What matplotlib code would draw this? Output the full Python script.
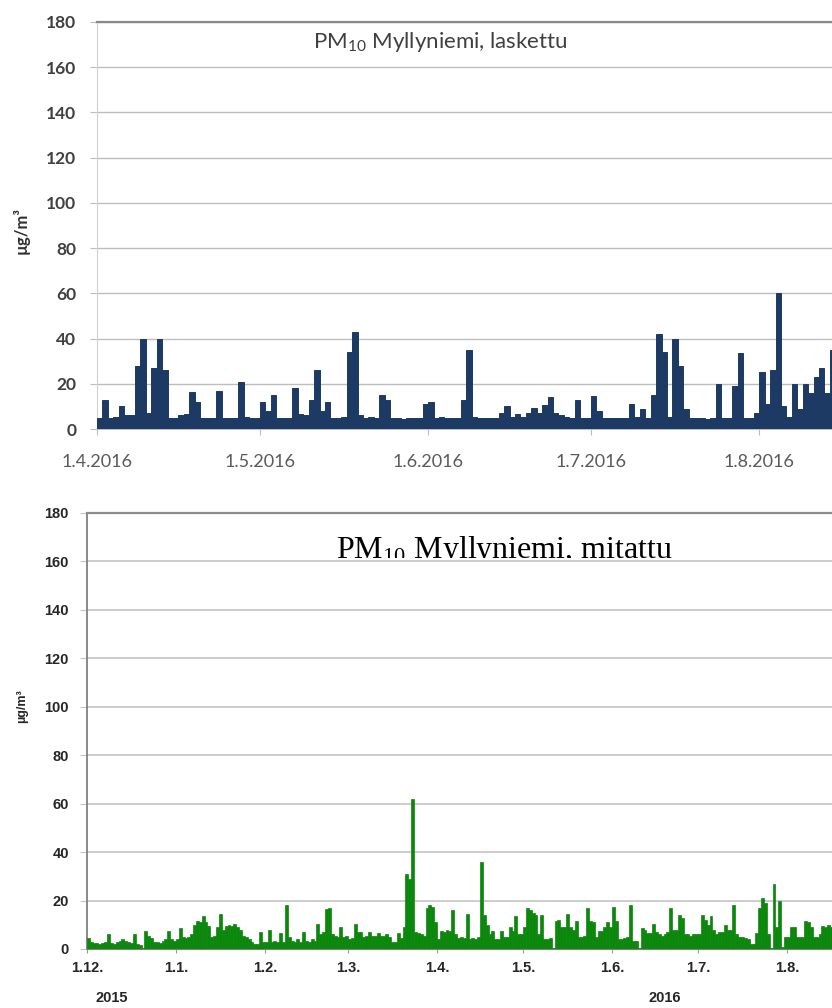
import matplotlib
matplotlib.use("Agg")
import matplotlib.pyplot as plt
import matplotlib.dates as mdates
from matplotlib.patches import Rectangle
import pandas as pd
import numpy as np

# ---------------- data ----------------
top_start = "2016-04-01"
top_values = [
    5, 13, 5, 5.5, 10, 6, 6, 28, 40, 7,
    27, 40, 26, 5, 5, 6, 6.5, 16.5, 12, 5,
    5, 5, 17, 5, 5, 5, 21, 5.5, 5, 5,
    12, 8, 15, 5, 5, 5, 18, 6.5, 6, 13,
    26, 8, 12, 5, 5, 5.5, 34, 43, 6, 5,
    5.5, 5, 15, 13, 5, 5, 4.5, 5, 5, 5,
    11, 12, 5, 5.5, 5, 5, 5, 13, 35, 5.5,
    5, 5, 5, 5, 7, 10, 5.5, 6.5, 5.5, 7,
    9.5, 7, 10.5, 14, 7, 6, 5.5, 5, 13, 5,
    5, 14.5, 8, 5, 5, 5, 5, 5, 11, 5.5,
    9, 5, 15, 42, 34, 5.5, 40, 28, 9, 5,
    5, 5, 4.5, 5, 20, 5, 5, 19, 33.5, 5,
    5, 7, 25, 11, 26, 60, 10, 5.5, 20, 9,
    20, 16, 23, 27, 16, 35,
]
top_tick_dates = ["2016-04-01", "2016-05-01", "2016-06-01", "2016-07-01", "2016-08-01"]
top_tick_labels = ["1.4.2016", "1.5.2016", "1.6.2016", "1.7.2016", "1.8.2016"]
top_title = "PM$\\mathregular{_{10}}$ Myllyniemi, laskettu"

bot_start = "2015-12-01"
bot_values = [
    # Dec 2015
    4.5, 3, 2.5, 2.5, 2, 2.5, 3, 6, 2.5, 2,
    3, 3.5, 4, 3.5, 3, 2.5, 6, 2, 1.5, 0.5,
    7.5, 5.5, 4.5, 3, 3, 2.5, 3.5, 4, 7.5, 4,
    3.5,
    # Jan 2016
    4, 8.5, 5, 4.5, 5, 6, 10, 11.5, 11, 13.5,
    11, 9.5, 5, 5.5, 9, 14.5, 8, 9.5, 10, 9.5,
    10.5, 9, 8, 5.5, 5, 4, 3, 2, 2, 7,
    3,
    # Feb
    3, 8, 3, 3.5, 3, 6.5, 3, 18, 5, 3.5,
    3, 4, 3, 7, 3.5, 3, 4, 3.5, 10.5, 6,
    7, 16.5, 17, 6, 5.5, 5, 9, 5, 5.5,
    # Mar
    4, 4.5, 10.5, 7, 7, 5, 5.5, 7, 5.5, 5.5,
    6.5, 5.5, 5.5, 6, 5, 3, 3, 6.5, 4.5, 9,
    31, 29, 62, 7, 6.5, 6, 5.5, 17, 18, 17.5,
    11,
    # Apr
    4, 7.5, 7, 8, 7.5, 16, 6, 4.5, 5, 4.5,
    14.5, 4, 4.5, 4, 5, 36, 14, 10, 6, 7.5,
    4, 4, 7.5, 5, 5, 9, 7.5, 13.5, 6, 6,
    # May
    9, 17, 16, 15, 14, 6, 14, 4, 4, 4.5,
    0.5, 11.5, 12, 9, 9, 14.5, 9, 8, 11.5, 5,
    5, 5.5, 17, 11.5, 11, 5, 7.5, 7.5, 9, 11,
    9,
    # Jun
    17.5, 11.5, 4, 4, 4.5, 5, 18, 3.5, 3.5, 0.5,
    8.5, 8, 6.5, 6.5, 10.5, 7, 6, 5.5, 6, 7,
    17, 8, 8, 14, 13, 6, 6, 5.5, 6, 6,
    # Jul
    6, 14, 12, 10, 13.5, 8, 6, 7, 7, 10,
    8, 8, 18, 6, 5, 5, 4.5, 4, 2, 2,
    6.5, 17, 21, 19, 6, 0.5, 27, 9, 20, 1,
    5,
    # Aug
    5, 9, 9, 5, 5, 5, 11.5, 11, 9, 5,
    5, 6, 9.5, 9, 10, 9,
]
bot_tick_dates = ["2015-12-01", "2016-01-01", "2016-02-01", "2016-03-01", "2016-04-01",
                  "2016-05-01", "2016-06-01", "2016-07-01", "2016-08-01"]
bot_tick_labels = ["1.12.", "1.1.", "1.2.", "1.3.", "1.4.", "1.5.", "1.6.", "1.7.", "1.8."]
bot_year_labels = ["2015", "2016"]
bot_title = "PM$\\mathregular{_{10}}$ Myllyniemi, mitattu"

y_ticks = [0, 20, 40, 60, 80, 100, 120, 140, 160, 180]
y_label = "µg/m³"

# ---------------- figure ----------------
W, H = 832, 1008
fig = plt.figure(figsize=(W / 100, H / 100), dpi=100)
fig.patch.set_facecolor("white")

# ---------- top panel ----------
ax1 = fig.add_axes([97 / W, 1 - 429 / H, 1 - 97 / W, 407 / H])
d1 = pd.date_range(top_start, periods=len(top_values), freq="D")
ax1.bar(d1, top_values, width=1.0, align="edge", color="#1d3a64",
        edgecolor="#1d3a64", linewidth=0.7, zorder=3)
x0 = mdates.date2num(pd.Timestamp(top_start))
ax1.set_xlim(x0, x0 + 135.4)
ax1.set_ylim(0, 180)
ax1.set_yticks(y_ticks)
ax1.set_xticks(pd.to_datetime(top_tick_dates))
ax1.set_xticklabels(top_tick_labels)
ax1.grid(axis="y", color="#bdbdbd", linewidth=1.0, zorder=0)
ax1.set_axisbelow(True)
ax1.spines["right"].set_visible(False)
ax1.spines["top"].set_color("#8a8a8a")
ax1.spines["top"].set_linewidth(1.6)
ax1.spines["left"].set_color("#d0d0d0")
ax1.spines["bottom"].set_color("#bdbdbd")
ax1.tick_params(axis="y", length=5, color="#bdbdbd", pad=10)
ax1.tick_params(axis="x", length=4, color="#bdbdbd", pad=14)
for lab in ax1.get_yticklabels():
    lab.set_fontfamily("Lato")
    lab.set_fontweight("bold")
    lab.set_fontsize(12.5)
    lab.set_color("#404040")
for lab in ax1.get_xticklabels():
    lab.set_fontfamily("Lato")
    lab.set_fontsize(13)
    lab.set_color("#5a5a5a")
ax1.text(0.467, 171, top_title, transform=ax1.get_yaxis_transform(),
         ha="center", va="center", fontfamily="Lato", fontsize=16, color="#404040")
fig.text(21 / W, 1 - 230 / H, y_label, rotation=90, ha="center", va="center",
         fontfamily="Lato", fontweight="bold", fontsize=12, color="#303030")

# ---------- bottom panel ----------
ax2 = fig.add_axes([87 / W, 1 - 949 / H, 1 - 87 / W, 436 / H])
d2 = pd.date_range(bot_start, periods=len(bot_values), freq="D")
ax2.bar(d2, bot_values, width=1.0, align="edge", color="#0b870b",
        edgecolor="#0b870b", linewidth=0.5, zorder=3)
x0b = mdates.date2num(pd.Timestamp(bot_start))
ax2.set_xlim(x0b, x0b + 259.7)
ax2.set_ylim(0, 180)
ax2.set_yticks(y_ticks)
ax2.set_xticks(pd.to_datetime(bot_tick_dates))
ax2.set_xticklabels(bot_tick_labels)
ax2.grid(axis="y", color="#c4c4c4", linewidth=1.2, zorder=0)
ax2.set_axisbelow(True)
ax2.spines["right"].set_visible(False)
ax2.spines["top"].set_color("#8c8c8c")
ax2.spines["top"].set_linewidth(1.6)
ax2.spines["left"].set_color("#7f7f7f")
ax2.spines["left"].set_linewidth(1.3)
ax2.spines["bottom"].set_color("#7f7f7f")
ax2.tick_params(axis="y", length=5, color="#c4c4c4", pad=8)
ax2.tick_params(axis="x", length=3, color="#9a9a9a", pad=6)
for lab in ax2.get_yticklabels():
    lab.set_fontfamily("Liberation Sans")
    lab.set_fontweight("bold")
    lab.set_fontsize(10.5)
    lab.set_color("#262626")
for lab in ax2.get_xticklabels():
    lab.set_fontfamily("Liberation Sans")
    lab.set_fontweight("bold")
    lab.set_fontsize(10.5)
    lab.set_color("#262626")
t2 = ax2.text(0.561, 161.5, bot_title, transform=ax2.get_yaxis_transform(),
              ha="center", va="baseline", fontfamily="Liberation Serif",
              fontsize=23, color="black", clip_on=True)
clip = Rectangle((0, 161.5), 1, 20, transform=ax2.get_yaxis_transform())
t2.set_clip_path(clip)
fig.text(112 / W, 1 - 998 / H, bot_year_labels[0], ha="center", va="center",
         fontfamily="Liberation Sans", fontweight="bold", fontsize=10.5, color="#262626")
fig.text(665 / W, 1 - 998 / H, bot_year_labels[1], ha="center", va="center",
         fontfamily="Liberation Sans", fontweight="bold", fontsize=10.5, color="#262626")
fig.text(22 / W, 1 - 706 / H, y_label, rotation=90, ha="center", va="center",
         fontfamily="Liberation Sans", fontweight="bold", fontsize=9, color="#262626")

fig.savefig("out.png", dpi=100, facecolor="white")
